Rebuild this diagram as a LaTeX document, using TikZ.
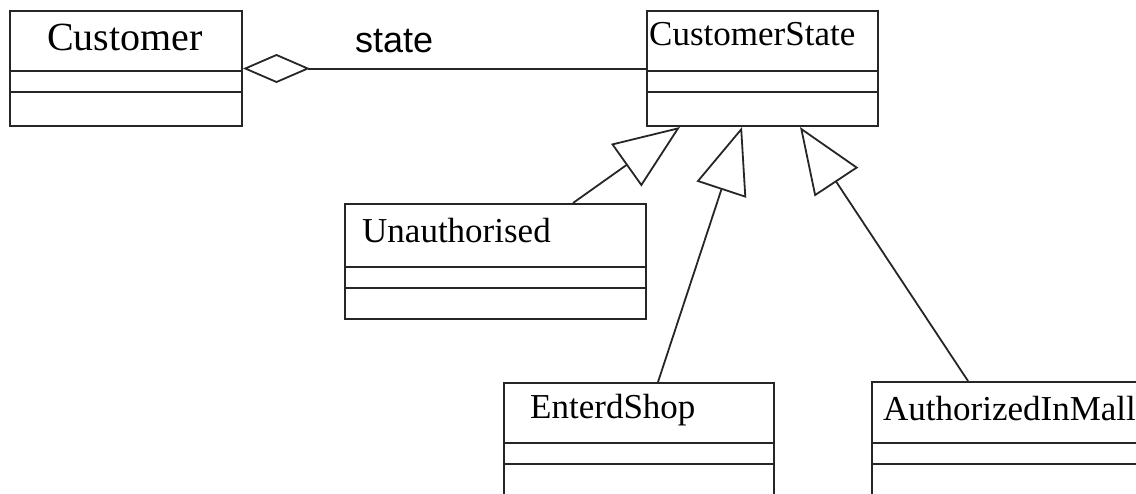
\documentclass[tikz,border=0pt]{standalone}
\usepackage{fontspec}
\setmainfont{Liberation Serif}
\newfontfamily\labelfont{Liberation Sans}
\usetikzlibrary{arrows.meta,calc}

\tikzset{
  cls/.style={draw=black!85, line width=2pt, fill=none, inner sep=0pt, anchor=north west},
  divider/.style={draw=black!85, line width=2pt},
  clsname/.style={anchor=base west, inner sep=0pt, font=\fontsize{35}{40}\selectfont},
  gen/.style={draw=black!85, line width=1.8pt,
    -{Triangle[open, length=66pt, width=52pt, line width=1.8pt]}},
  aggr/.style={draw=black!85, line width=2pt,
    {Diamond[open, length=67pt, width=29pt, line width=1.8pt]}-},
  rolelabel/.style={anchor=base west, inner sep=0pt, font=\labelfont\fontsize{36}{40}\selectfont}
}

\begin{document}
\begin{tikzpicture}[x=1pt,y=-1pt]
  \useasboundingbox (0,0) rectangle (1136,493);
  \clip (0,0) rectangle (1136,493);

  % class boxes
  \node[cls, minimum width=232pt, minimum height=115pt] (cust) at (9,10) {};
  \node[cls, minimum width=231pt, minimum height=115pt] (cs) at (646,10) {};
  \node[cls, minimum width=301pt, minimum height=115pt] (unauth) at (344,203) {};
  \node[cls, minimum width=270pt, minimum height=140pt] (ent) at (503,382) {};
  \node[cls, minimum width=300pt, minimum height=140pt] (auth) at (871,381) {};

  % compartment dividers
  \draw[divider] (cust.west |- 0,71) -- (cust.east |- 0,71);
  \draw[divider] (cust.west |- 0,92) -- (cust.east |- 0,92);
  \draw[divider] (cs.west |- 0,71) -- (cs.east |- 0,71);
  \draw[divider] (cs.west |- 0,92) -- (cs.east |- 0,92);
  \draw[divider] (unauth.west |- 0,267) -- (unauth.east |- 0,267);
  \draw[divider] (unauth.west |- 0,288) -- (unauth.east |- 0,288);
  \draw[divider] (ent.west |- 0,443) -- (ent.east |- 0,443);
  \draw[divider] (ent.west |- 0,464) -- (ent.east |- 0,464);
  \draw[divider] (auth.west |- 0,443) -- (auth.east |- 0,443);
  \draw[divider] (auth.west |- 0,464) -- (auth.east |- 0,464);

  % class names
  \node[clsname, font=\fontsize{40}{44}\selectfont] (custname) at (47,50) {Customer};
  \node[clsname] (csname) at (649,45) {CustomerState};
  \node[clsname] (unauthname) at (362,242) {Unauthorised};
  \node[clsname] (entname) at (530,418) {EnterdShop};
  \node[clsname] (authname) at (883,420) {AuthorizedInMall};

  % aggregation
  \draw[aggr] (cust.east) -- (cs.west);
  \node[rolelabel] (role) at (355,52) {state};

  % generalisations
  \draw[gen] ($(unauth.north west)+(229,0)$) -- ($(cs.south west)+(34,0)$);
  \draw[gen] ($(ent.north west)+(155,0)$) -- ($(cs.south west)+(96,0)$);
  \draw[gen] ($(auth.north west)+(97,0)$) -- ($(cs.south west)+(154,0)$);
\end{tikzpicture}
\end{document}
